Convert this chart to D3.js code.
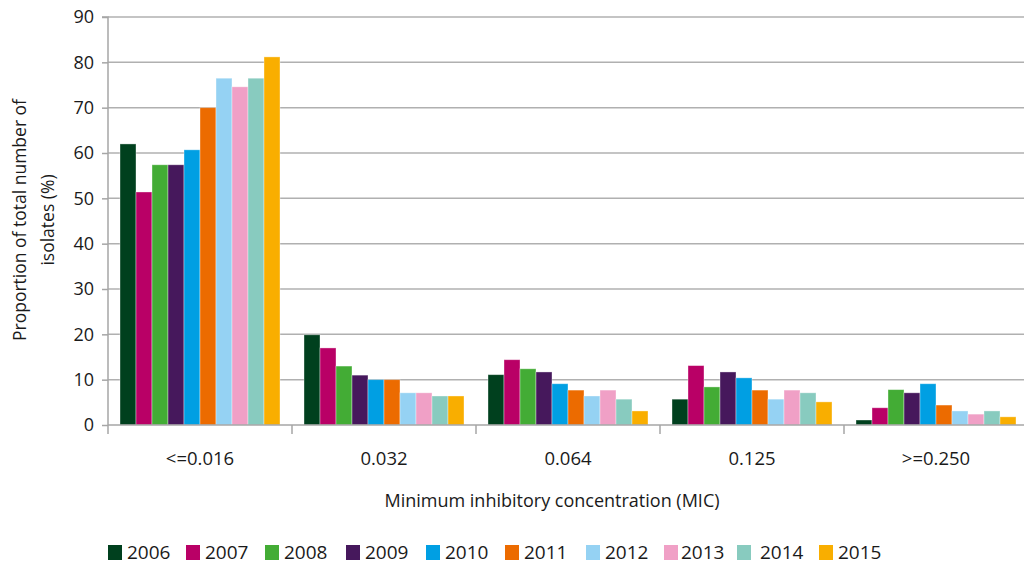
<!DOCTYPE html>
<html><head><meta charset="utf-8">
<script src="https://cdn.jsdelivr.net/npm/d3@7"></script>
<style>body{margin:0;background:#fff;} svg{display:block;}</style>
</head><body>
<svg id="c" width="1024" height="564"></svg>
<script>
const categories = ["<=0.016", "0.032", "0.064", "0.125", ">=0.250"];
const years = ["2006","2007","2008","2009","2010","2011","2012","2013","2014","2015"];
const v2006 = [62.0, 19.9, 11.1, 5.7, 1.1];
const v2007 = [51.4, 17.0, 14.4, 13.1, 3.8];
const v2008 = [57.4, 13.0, 12.4, 8.4, 7.8];
const v2009 = [57.4, 11.0, 11.7, 11.7, 7.1];
const v2010 = [60.7, 10.0, 9.1, 10.4, 9.1];
const v2011 = [70.0, 10.0, 7.7, 7.7, 4.4];
const v2012 = [76.5, 7.1, 6.4, 5.7, 3.1];
const v2013 = [74.6, 7.1, 7.7, 7.7, 2.4];
const v2014 = [76.5, 6.4, 5.7, 7.1, 3.1];
const v2015 = [81.2, 6.4, 3.1, 5.1, 1.8];
const seriesValues = [v2006,v2007,v2008,v2009,v2010,v2011,v2012,v2013,v2014,v2015];
const colors = ["#00401e","#b90066","#43ac35","#46185c","#009fe3","#ec6b00","#95d2f3","#f0a0c6","#88cbbf","#f9ae00"];
const yTicks = [0,10,20,30,40,50,60,70,80,90];
const yTitle = ["Proportion of total number of", "isolates (%)"];
const xTitle = "Minimum inhibitory concentration (MIC)";

(function () {
const svg = d3.select("#c");
const font = "'Open Sans', sans-serif";
const pLeft = 108, pRight = 1028, pTop = 17, pBottom = 425;
const x0 = d3.scaleBand().domain(categories).range([pLeft, pRight]).padding(0);
const x1 = d3.scaleBand().domain(years).range([12, x0.bandwidth() - 12]).padding(0);
const y = d3.scaleLinear().domain([0, 90]).range([pBottom, pTop]);

// gridlines
svg.append("g").selectAll("line").data(yTicks.filter(d => d > 0)).join("line")
  .attr("x1", pLeft).attr("x2", pRight)
  .attr("y1", d => y(d)).attr("y2", d => y(d))
  .attr("stroke", "#b0b0b0").attr("stroke-width", 1.5);

// bars
const rows = [];
categories.forEach((c, ci) => years.forEach((yr, yi) => rows.push({c, yr, yi, v: seriesValues[yi][ci]})));
svg.append("g").selectAll("rect").data(rows).join("rect")
  .attr("x", d => x0(d.c) + x1(d.yr))
  .attr("y", d => y(d.v))
  .attr("width", x1.bandwidth())
  .attr("height", d => y(0) - y(d.v))
  .attr("fill", d => colors[d.yi])
  .attr("stroke", "rgba(255,255,255,0.45)").attr("stroke-width", 0.8);

// y axis
const yAxis = d3.axisLeft(y).tickValues(yTicks).tickSize(6).tickPadding(8);
const gy = svg.append("g").attr("transform", `translate(${pLeft},0)`).call(yAxis);
gy.select(".domain").attr("stroke", "#a6a6a6").attr("stroke-width", 1.5).attr("d", `M-6,${pTop}H0V${pBottom}`);
gy.selectAll(".tick line").attr("stroke", "#a6a6a6").attr("stroke-width", 1.5);
gy.selectAll(".tick text").attr("font-family", font).attr("font-size", 18).attr("fill", "#1a1a1a");

// x axis
const xAxis = d3.axisBottom(x0).tickSize(0).tickPadding(27);
const gx = svg.append("g").attr("transform", `translate(0,${pBottom})`).call(xAxis);
gx.select(".domain").attr("stroke", "#a6a6a6").attr("stroke-width", 1.5).attr("d", `M${pLeft},0H${pRight}`);
gx.selectAll(".tick text").attr("font-family", font).attr("font-size", 18.5).attr("fill", "#1a1a1a");
svg.append("g").selectAll("line").data(categories.map(c => x0(c)).concat([pRight]))
  .join("line").attr("x1", d => d).attr("x2", d => d).attr("y1", pBottom).attr("y2", pBottom + 9)
  .attr("stroke", "#a6a6a6").attr("stroke-width", 1.5);

// titles
svg.append("text").attr("x", 552).attr("y", 507).attr("text-anchor", "middle")
  .attr("font-family", font).attr("font-size", 18).attr("fill", "#1a1a1a").text(xTitle);
const yt = svg.append("text").attr("transform", "translate(26,220) rotate(-90)")
  .attr("text-anchor", "middle").attr("font-family", font).attr("font-size", 17.5).attr("fill", "#1a1a1a");
yTitle.forEach((t, i) => yt.append("tspan").attr("x", 0).attr("dy", i ? 28 : 0).text(t));

// legend
const legX = [108, 186, 265, 346, 426, 505, 586, 664, 737, 819];
const legTextX = [127, 205, 284, 365, 445, 524, 605, 681, 760, 838];
const lg = svg.append("g");
years.forEach((yr, i) => {
  lg.append("rect").attr("x", legX[i]).attr("y", 545).attr("width", 14).attr("height", 15).attr("fill", colors[i]);
  lg.append("text").attr("x", legTextX[i]).attr("y", 559).attr("font-family", "'Liberation Sans Narrow', 'Open Sans', sans-serif")
    .attr("font-size", 19).attr("fill", "#1a1a1a").text(yr);
});
})();
</script>
</body></html>
